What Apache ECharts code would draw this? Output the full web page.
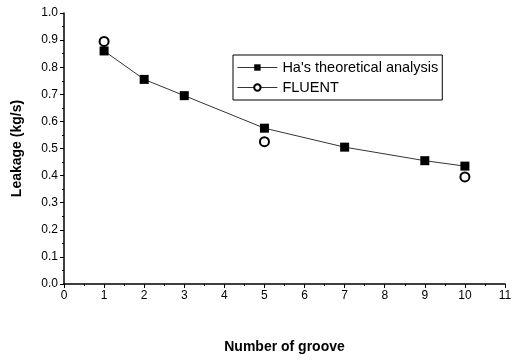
<!DOCTYPE html>
<html>
<head>
<meta charset="utf-8">
<script src="https://cdn.jsdelivr.net/npm/echarts@6/dist/echarts.min.js"></script>
<style>
  html, body { margin: 0; padding: 0; background: #fff; }
  #chart { width: 518px; height: 362px; }
</style>
</head>
<body>
<div id="chart"></div>
<script>
// data
const haGrooves = [1, 2, 3, 5, 7, 9, 10];
const haLeakage = [0.86, 0.755, 0.695, 0.575, 0.505, 0.455, 0.435];
const fluentGrooves = [1, 5, 10];
const fluentLeakage = [0.895, 0.525, 0.395];

const font = "Liberation Sans, Arial, sans-serif";

const chart = echarts.init(document.getElementById("chart"));

function axisCommon() {
  return {
    axisLine: { show: true, onZero: false, lineStyle: { color: "#000", width: 1.5 } },
    axisTick: { show: true, inside: false, length: 4, lineStyle: { color: "#000", width: 1 } },
    minorTick: { show: true, splitNumber: 2, length: 2, lineStyle: { color: "#000" } },
    splitLine: { show: false },
    axisLabel: { color: "#000", fontFamily: font, fontSize: 12, margin: 6 },
    nameTextStyle: { color: "#000", fontFamily: font, fontSize: 14, fontWeight: "bold" }
  };
}

chart.setOption({
  animation: false,
  backgroundColor: "#fff",
  grid: { left: 64, right: 13, top: 13, bottom: 78 },
  legend: {
    orient: "vertical",
    left: 233,
    top: 55,
    itemWidth: 40,
    itemHeight: 8,
    itemGap: 5,
    padding: [5, 4, 5, 4],
    borderColor: "#000",
    borderWidth: 1,
    textStyle: { color: "#000", fontFamily: font, fontSize: 14.5 },
    data: [
      { name: "Ha's theoretical analysis", lineStyle: { width: 0.8, color: "#000" } },
      { name: "FLUENT", lineStyle: { opacity: 1, width: 0.8, color: "#000" }, itemStyle: { borderWidth: 0.8 } }
    ]
  },
  xAxis: Object.assign(axisCommon(), {
    type: "value",
    min: 0, max: 11, interval: 1,
    name: "Number of groove",
    nameLocation: "middle",
    nameGap: 56
  }),
  yAxis: Object.assign(axisCommon(), {
    type: "value",
    min: 0, max: 1, interval: 0.1,
    name: "Leakage (kg/s)",
    nameLocation: "middle",
    nameGap: 40,
    axisLabel: {
      color: "#000", fontFamily: font, fontSize: 12, margin: 6,
      formatter: v => v.toFixed(1)
    }
  }),
  series: [
    {
      name: "Ha's theoretical analysis",
      type: "line",
      data: haGrooves.map((g, i) => [g, haLeakage[i]]),
      symbol: "rect",
      symbolSize: 9,
      itemStyle: { color: "#000" },
      lineStyle: { color: "#000", width: 0.8 },
      z: 3
    },
    {
      name: "FLUENT",
      type: "line",
      data: fluentGrooves.map((g, i) => [g, fluentLeakage[i]]),
      symbol: "emptyCircle",
      symbolSize: 9,
      showAllSymbol: true,
      itemStyle: { color: "#000", borderColor: "#000", borderWidth: 0.8 },
      lineStyle: { opacity: 0, width: 0 },
      z: 2
    }
  ]
});
</script>
</body>
</html>
